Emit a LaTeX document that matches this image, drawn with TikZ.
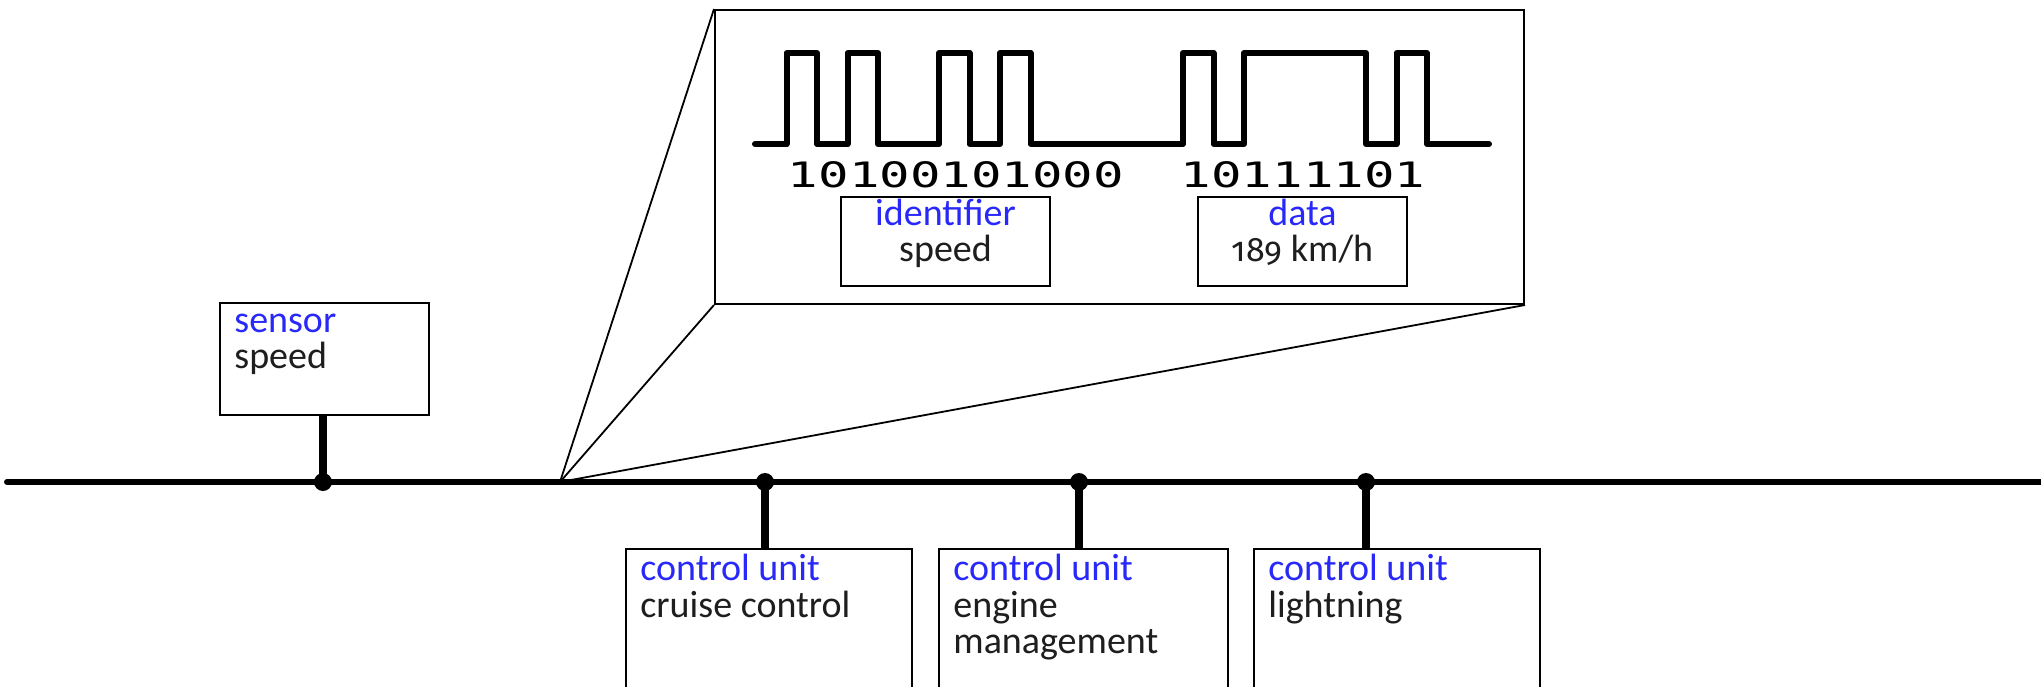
\documentclass[tikz,border=0pt]{standalone}
\usepackage{fontspec}
\setmainfont{Carlito}[Numbers=OldStyle]
\newfontfamily\oldfigs{Fira Sans}[Numbers=OldStyle]
\newfontfamily\bitfont{DejaVu Sans Mono}[FakeStretch=1.45]
\usetikzlibrary{fit}
\definecolor{labelblue}{RGB}{40,40,250}
\definecolor{labelink}{RGB}{30,30,30}

\tikzset{
  frame/.style={draw, line width=1pt, inner sep=0pt},
  busline/.style={line width=3pt, line cap=round},
  stem/.style={line width=4.25pt},
  tapdot/.style={fill=black},
  zoomline/.style={line width=0.9pt},
  signal/.style={line width=3pt, line join=round, line cap=round},
  bits/.style={anchor=base, inner sep=0pt, font=\bitfont\fontsize{17.5}{20}\selectfont},
  lbl/.style={anchor=base west, inner sep=0pt, text=labelink, font=\fontsize{19}{22}\selectfont},
  head/.style={lbl, text=labelblue},
  clbl/.style={lbl, anchor=base},
  chead/.style={clbl, text=labelblue}
}

\begin{document}
\begin{tikzpicture}[x=0.5pt,y=-0.5pt]
\fill[white] (0,0) rectangle (2041,686);
\useasboundingbox (0,0) rectangle (2041,686);

% bus and tap points
\coordinate (busL) at (7,482);
\coordinate (busR) at (2045,482);
\coordinate (apex) at (560,482);
\coordinate (tap0) at (323,482);
\coordinate (tap1) at (765,482);
\coordinate (tap2) at (1079,482);
\coordinate (tap3) at (1366,482);
\draw[busline] (busL) -- (busR);

% sensor
\node[frame, fit={(220,303) (429,415)}] (sensor) {};
\node[head] (sensorA) at (234,332) {sensor};
\node[lbl]  (sensorB) at (234,368) {speed};
\draw[stem] (tap0) -- (tap0 |- sensor.south);

% control units
\node[frame, fit={(626,549) (912,692)}] (cu1) {};
\node[head] (cu1A) at (640,580) {control unit};
\node[lbl]  (cu1B) at (640,617) {cruise control};

\node[frame, fit={(939,549) (1228,692)}] (cu2) {};
\node[head] (cu2A) at (953,580) {control unit};
\node[lbl]  (cu2B) at (953,617) {engine};
\node[lbl]  (cu2C) at (953,653) {management};

\node[frame, fit={(1254,549) (1540,692)}] (cu3) {};
\node[head] (cu3A) at (1268,580) {control unit};
\node[lbl]  (cu3B) at (1268,617) {lightning};

\draw[stem] (tap1) -- (tap1 |- cu1.north);
\draw[stem] (tap2) -- (tap2 |- cu2.north);
\draw[stem] (tap3) -- (tap3 |- cu3.north);

\foreach \t in {tap0,tap1,tap2,tap3}
  \fill[tapdot] (\t) circle[radius=4.5pt];

% magnified frame
\node[frame, fit={(715,10) (1524,304)}] (zoombox) {};
\draw[zoomline] (apex) -- (zoombox.north west);
\draw[zoomline] (apex) -- (zoombox.south west);
\draw[zoomline] (apex) -- (zoombox.south east);

% bit stream
\draw[signal] (755,144) -- (786.5,144) -- (786.5,53) -- (817,53) -- (817,144)
  -- (847.5,144) -- (847.5,53) -- (878,53) -- (878,144)
  -- (939,144) -- (939,53) -- (969.5,53) -- (969.5,144)
  -- (1000,144) -- (1000,53) -- (1030.5,53) -- (1030.5,144)
  -- (1183,144) -- (1183,53) -- (1213.5,53) -- (1213.5,144)
  -- (1244,144) -- (1244,53) -- (1366,53) -- (1366,144)
  -- (1396.5,144) -- (1396.5,53) -- (1427,53) -- (1427,144) -- (1489,144);
\node[bits] (idbits) at (956,187) {10100101000};
\node[bits] (databits) at (1303,187) {10111101};

% field boxes
\node[frame, fit={(841,197) (1050,286)}] (idbox) {};
\node[chead] (idA) at (idbox.center |- 0,225) {identifier};
\node[clbl]  (idB) at (idbox.center |- 0,261) {speed};

\node[frame, fit={(1198,197) (1407,286)}] (databox) {};
\node[chead] (dataA) at (databox.center |- 0,225) {data};
\node[clbl]  (dataB) at (databox.center |- 0,261) {{\oldfigs\fontsize{17}{20}\selectfont 189} km/h};
\end{tikzpicture}
\end{document}
